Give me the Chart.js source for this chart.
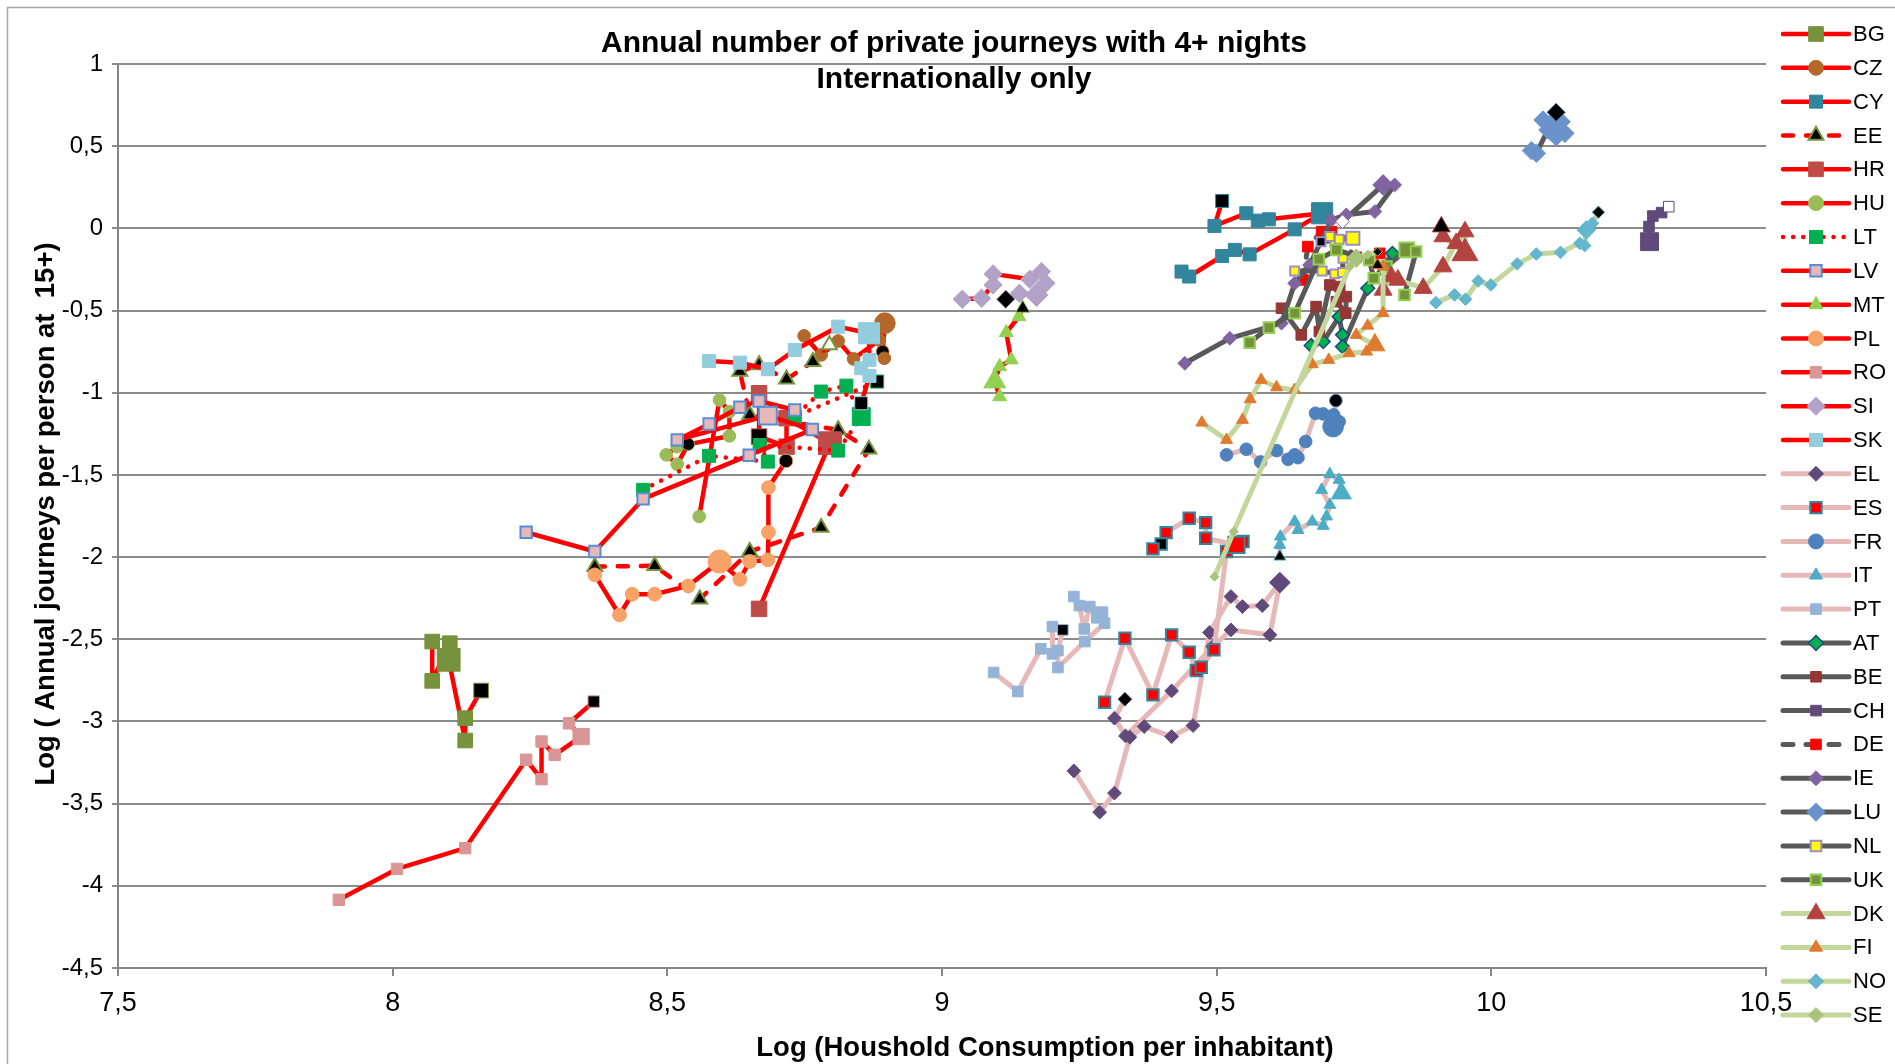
<!DOCTYPE html>
<html>
<head>
<meta charset="utf-8">
<title>Annual number of private journeys with 4+ nights</title>
<script src="https://cdn.jsdelivr.net/npm/chart.js@4.4.1/dist/chart.umd.min.js"></script>
<style>
html, body { margin: 0; padding: 0; background: #fff; }
#wrap { position: relative; width: 1895px; height: 1064px; }
</style>
</head>
<body>
<div id="wrap"><canvas id="chart" width="1895" height="1064"></canvas></div>
<script>
// Log household consumption per inhabitant (x) vs log annual journeys per person (y), one path per country.
const countries = ['BG', 'CZ', 'CY', 'EE', 'HR', 'HU', 'LT', 'LV', 'MT', 'PL', 'RO', 'SI', 'SK',
    'EL', 'ES', 'FR', 'IT', 'PT', 'AT', 'BE', 'CH', 'DE', 'IE', 'LU', 'NL', 'UK', 'DK', 'FI', 'NO', 'SE'];

const xBG = [8.072, 8.072, 8.104, 8.102, 8.132, 8.132, 8.161];
const yBG = [-2.514, -2.753, -2.524, -2.625, -3.116, -2.980, -2.812];
const xCZ = [8.749, 8.780, 8.811, 8.839, 8.886, 8.896, 8.892, 8.895];
const yCZ = [-0.654, -0.770, -0.685, -0.794, -0.679, -0.577, -0.750, -0.790];
const xCY = [9.436, 9.450, 9.510, 9.533, 9.560, 9.642, 9.692, 9.595, 9.575, 9.554, 9.496, 9.510];
const yCY = [-0.263, -0.293, -0.168, -0.131, -0.158, -0.006, 0.092, 0.055, 0.047, 0.092, 0.015, 0.167];
const xEE = [8.368, 8.477, 8.559, 8.650, 8.780, 8.867, 8.811, 8.650, 8.632, 8.667, 8.717, 8.765, 8.795];
const yEE = [-2.058, -2.053, -2.256, -1.966, -1.820, -1.344, -1.226, -1.135, -0.871, -0.831, -0.918, -0.811, -0.709];
const xHR = [8.667, 8.667, 8.717, 8.717, 8.796, 8.667];
const yHR = [-1.003, -1.267, -1.328, -1.155, -1.307, -2.315];
const xHU = [8.558, 8.595, 8.613, 8.613, 8.518, 8.498, 8.518, 8.538];
const yHU = [-1.753, -1.044, -1.115, -1.263, -1.328, -1.378, -1.435, -1.313];
const xLT = [8.456, 8.576, 8.683, 8.668, 8.811, 8.853, 8.826, 8.780, 8.732, 8.882];
const yLT = [-1.591, -1.384, -1.419, -1.318, -1.352, -1.145, -0.957, -0.993, -1.145, -0.932];
const xLV = [8.243, 8.368, 8.456, 8.649, 8.764, 8.683, 8.518, 8.576, 8.632, 8.667, 8.732];
const yLV = [-1.849, -1.966, -1.646, -1.380, -1.224, -1.139, -1.287, -1.190, -1.088, -1.050, -1.105];
const xMT = [9.105, 9.096, 9.105, 9.126, 9.117, 9.140, 9.147];
const yMT = [-1.024, -0.932, -0.841, -0.800, -0.634, -0.537, -0.486];
const xPL = [8.368, 8.413, 8.436, 8.477, 8.538, 8.595, 8.632, 8.650, 8.683, 8.684, 8.684, 8.716];
const yPL = [-2.108, -2.352, -2.226, -2.226, -2.175, -2.027, -2.135, -2.027, -2.017, -1.849, -1.577, -1.415];
const xRO = [7.902, 8.008, 8.132, 8.243, 8.271, 8.271, 8.295, 8.343, 8.321, 8.366];
const yRO = [-4.085, -3.897, -3.771, -3.233, -3.351, -3.122, -3.203, -3.092, -3.011, -2.879];
const xSI = [9.037, 9.072, 9.093, 9.093, 9.160, 9.181, 9.189, 9.172, 9.141, 9.116];
const ySI = [-0.431, -0.425, -0.344, -0.277, -0.310, -0.263, -0.334, -0.405, -0.395, -0.431];
const xSK = [8.576, 8.632, 8.683, 8.732, 8.811, 8.867, 8.868, 8.853, 8.868, 8.853];
const ySK = [-0.807, -0.817, -0.857, -0.740, -0.598, -0.638, -0.800, -0.851, -0.898, -1.064];
const xEL = [9.240, 9.287, 9.314, 9.342, 9.368, 9.418, 9.457, 9.487, 9.526, 9.547, 9.583, 9.615, 9.597, 9.526, 9.493, 9.418, 9.334, 9.314, 9.333];
const yEL = [-3.301, -3.552, -3.436, -3.096, -3.031, -3.092, -3.025, -2.459, -2.240, -2.301, -2.295, -2.155, -2.473, -2.443, -2.544, -2.814, -3.088, -2.980, -2.865];
const xES = [9.296, 9.333, 9.384, 9.418, 9.450, 9.463, 9.472, 9.495, 9.518, 9.548, 9.536, 9.480, 9.480, 9.450, 9.408, 9.399, 9.384];
const yES = [-2.883, -2.494, -2.838, -2.473, -2.579, -2.690, -2.670, -2.564, -1.966, -1.905, -1.926, -1.885, -1.790, -1.764, -1.851, -1.920, -1.950];
const xFR = [9.518, 9.554, 9.580, 9.609, 9.630, 9.642, 9.648, 9.662, 9.680, 9.694, 9.713, 9.723, 9.712, 9.717];
const yFR = [-1.378, -1.344, -1.421, -1.352, -1.405, -1.378, -1.395, -1.297, -1.125, -1.129, -1.135, -1.176, -1.206, -1.048];
const xIT = [9.615, 9.615, 9.616, 9.642, 9.648, 9.674, 9.694, 9.700, 9.706, 9.691, 9.706, 9.723, 9.727];
const yIT = [-1.997, -1.926, -1.875, -1.784, -1.835, -1.784, -1.810, -1.753, -1.682, -1.591, -1.496, -1.530, -1.611];
const xPT = [9.094, 9.138, 9.180, 9.201, 9.201, 9.220, 9.211, 9.211, 9.260, 9.296, 9.287, 9.269, 9.259, 9.250, 9.240];
const yPT = [-2.702, -2.818, -2.558, -2.589, -2.423, -2.443, -2.569, -2.672, -2.514, -2.402, -2.352, -2.301, -2.437, -2.295, -2.240];
const xAT = [9.672, 9.694, 9.723, 9.729, 9.729, 9.775, 9.820];
const yAT = [-0.713, -0.689, -0.537, -0.648, -0.719, -0.365, -0.152];
const xBE = [9.618, 9.654, 9.681, 9.687, 9.706, 9.736, 9.735, 9.718, 9.724];
const yBE = [-0.486, -0.648, -0.476, -0.628, -0.344, -0.415, -0.516, -0.446, -0.354];
const xCH = [10.288, 10.287, 10.294, 10.310, 10.323];
const yCH = [-0.081, 0.011, 0.075, 0.096, 0.132];
const xDE = [9.657, 9.666, 9.691, 9.709, 9.754, 9.797];
const yDE = [-0.314, -0.111, -0.020, -0.020, -0.176, -0.152];
const xIE = [9.442, 9.524, 9.618, 9.642, 9.669, 9.709, 9.736, 9.788, 9.824, 9.803, 9.729];
const yIE = [-0.821, -0.669, -0.577, -0.334, -0.223, 0.051, 0.082, 0.102, 0.264, 0.264, 0.041];
const xLU = [10.073, 10.082, 10.103, 10.094, 10.109, 10.127, 10.134, 10.118, 10.118];
const yLU = [0.473, 0.457, 0.599, 0.659, 0.629, 0.649, 0.578, 0.558, 0.706];
const xNL = [9.642, 9.692, 9.715, 9.729, 9.730, 9.715, 9.723, 9.706, 9.748, 9.690];
const yNL = [-0.259, -0.259, -0.277, -0.269, -0.182, -0.081, -0.066, -0.050, -0.060, -0.081];
const xUK = [9.560, 9.595, 9.642, 9.686, 9.718, 9.778, 9.786, 9.809, 9.846, 9.863, 9.842];
const yUK = [-0.695, -0.604, -0.516, -0.188, -0.131, -0.192, -0.304, -0.233, -0.131, -0.141, -0.405];
const xDK = [9.803, 9.818, 9.830, 9.876, 9.912, 9.936, 9.952, 9.952, 9.912, 9.909];
const yDK = [-0.375, -0.294, -0.314, -0.364, -0.233, -0.091, -0.020, -0.151, -0.050, 0.010];
const xFI = [9.473, 9.518, 9.547, 9.561, 9.581, 9.609, 9.642, 9.674, 9.704, 9.741, 9.773, 9.788, 9.754, 9.775, 9.803, 9.803, 9.793];
const yFI = [-1.182, -1.287, -1.165, -1.040, -0.922, -0.967, -0.983, -0.827, -0.800, -0.760, -0.750, -0.710, -0.648, -0.592, -0.516, -0.233, -0.223];
const xNO = [9.899, 9.933, 9.953, 9.976, 9.999, 10.047, 10.082, 10.126, 10.161, 10.170, 10.173, 10.184, 10.195];
const yNO = [-0.452, -0.405, -0.431, -0.320, -0.344, -0.216, -0.156, -0.146, -0.091, -0.105, -0.010, 0.031, 0.098];
const xSE = [9.496, 9.531, 9.742, 9.754, 9.775, 9.793];
const ySE = [-2.119, -1.845, -0.233, -0.182, -0.160, -0.142];

const xTicks = [7.5, 10.5, 0.5]; // min, max, step
const yTicks = [-4.5, 1, 0.5];

const xs = { BG: xBG, CZ: xCZ, CY: xCY, EE: xEE, HR: xHR, HU: xHU, LT: xLT, LV: xLV, MT: xMT, PL: xPL, RO: xRO, SI: xSI, SK: xSK,
    EL: xEL, ES: xES, FR: xFR, IT: xIT, PT: xPT, AT: xAT, BE: xBE, CH: xCH, DE: xDE, IE: xIE, LU: xLU, NL: xNL, UK: xUK,
    DK: xDK, FI: xFI, NO: xNO, SE: xSE };
const ys = { BG: yBG, CZ: yCZ, CY: yCY, EE: yEE, HR: yHR, HU: yHU, LT: yLT, LV: yLV, MT: yMT, PL: yPL, RO: yRO, SI: ySI, SK: ySK,
    EL: yEL, ES: yES, FR: yFR, IT: yIT, PT: yPT, AT: yAT, BE: yBE, CH: yCH, DE: yDE, IE: yIE, LU: yLU, NL: yNL, UK: yUK,
    DK: yDK, FI: yFI, NO: yNO, SE: ySE };

const RED = '#FF0000';
const PINK = '#E6B9B8';
const GREY = '#595959';
const GREEN = '#C3D69B';
const DASH = [10, 13];
const DOTS = [0.1, 10];
const SIZE = 1.15; // marker scale

// marker look per country: shape, fill, border, radius, big marker index/radius, highlighted (black) index
const styles = {
    BG: { line: RED, shape: 'rect', fill: '#76923C', r: 9, big: 3, bigR: 14, hi: 6 },
    CZ: { line: RED, shape: 'circle', fill: '#B3672B', r: 5.5, big: 5, bigR: 9, hi: 6 },
    CY: { line: RED, shape: 'rect', fill: '#31859C', r: 8, big: 6, bigR: 13, hi: 11 },
    EE: { line: RED, dash: DASH, shape: 'triangle', fill: '#000000', stroke: '#77933C', bw: 2, r: 7.5, hi: 12, hiColor: '#FFFFFF' },
    HR: { line: RED, shape: 'rect', fill: '#BE4B48', r: 9.5, big: 4, bigR: 14, hi: 1 },
    HU: { line: RED, shape: 'circle', fill: '#9BBB59', r: 5.5, hi: 7 },
    LT: { line: RED, dash: DOTS, shape: 'rect', fill: '#00B050', r: 8, big: 5, bigR: 11, hi: 9 },
    LV: { line: RED, shape: 'rect', fill: '#E6B9B8', stroke: '#558ED5', bw: 2, r: 7, big: 5, bigR: 11 },
    MT: { line: RED, shape: 'triangle', fill: '#92D050', r: 7, big: 1, bigR: 11, hi: 6 },
    PL: { line: RED, shape: 'circle', fill: '#F7A266', r: 6, big: 5, bigR: 10, hi: 11 },
    RO: { line: RED, shape: 'rect', fill: '#D99694', r: 7, big: 7, bigR: 10, hi: 9 },
    SI: { line: RED, shape: 'rectRot', fill: '#B3A2C7', r: 8, big: 7, bigR: 10, hi: 9 },
    SK: { line: RED, shape: 'rect', fill: '#93CDDD', r: 8, big: 5, bigR: 13, hi: 9 },
    EL: { line: PINK, shape: 'rectRot', fill: '#604A7B', r: 6, big: 11, bigR: 9, hi: 18 },
    ES: { line: PINK, shape: 'rect', fill: '#FF0000', stroke: '#31859C', bw: 2, r: 7, big: 10, bigR: 10, hi: 15 },
    FR: { line: PINK, shape: 'circle', fill: '#4F81BD', r: 5.5, big: 12, bigR: 9, hi: 13 },
    IT: { line: PINK, shape: 'triangle', fill: '#4BACC6', r: 6, big: 12, bigR: 10, hi: 0 },
    PT: { line: PINK, shape: 'rect', fill: '#95B3D7', r: 6.5, big: 10, bigR: 10, hi: 5 },
    AT: { line: GREY, shape: 'rectRot', fill: '#00B050', stroke: '#1F497D', bw: 1.5, r: 6 },
    BE: { line: GREY, shape: 'rect', fill: '#953735', r: 6.5 },
    CH: { line: GREY, shape: 'rect', fill: '#604A7B', r: 6.5, big: 0, bigR: 11, hi: 4, hiColor: '#FFFFFF' },
    DE: { line: GREY, dash: DASH, shape: 'rect', fill: '#FF0000', r: 6.5 },
    IE: { line: GREY, shape: 'rectRot', fill: '#8064A2', r: 6, big: 9, bigR: 9, hi: 10, hiColor: '#FFFFFF' },
    LU: { line: GREY, shape: 'rectRot', fill: '#6A93CC', r: 8, big: 4, bigR: 10, hi: 8 },
    NL: { line: GREY, shape: 'rect', fill: '#FFFF00', stroke: '#A08BC4', bw: 2, r: 5.5, big: 8, bigR: 8, hi: 9 },
    UK: { line: GREY, shape: 'rect', fill: '#76923C', stroke: '#92D050', bw: 2, r: 6.5, big: 8, bigR: 9 },
    DK: { line: GREEN, shape: 'triangle', fill: '#B3433F', r: 9, big: 7, bigR: 13, hi: 9 },
    FI: { line: GREEN, shape: 'triangle', fill: '#E07A2E', r: 6, big: 11, bigR: 10, hi: 16 },
    NO: { line: GREEN, shape: 'rectRot', fill: '#63B6CE', r: 5.5, big: 10, bigR: 8, hi: 12 },
    SE: { line: GREEN, shape: 'rectRot', fill: '#A8C47A', r: 4, big: 3, bigR: 8, hi: 5 },
};

const titleLines = ['Annual number of private journeys with 4+ nights', 'Internationally only'];
const xTitle = 'Log (Houshold Consumption per inhabitant)';
const yTitle = 'Log ( Annual journeys per person at  15+)';

const FONT = '"Liberation Sans", Arial, sans-serif';
const comma = (v) => String(Math.round(v * 10) / 10).replace('.', ',');

const datasets = countries.map((c, i) => {
    const s = styles[c];
    const px = xs[c];
    const py = ys[c];
    const radii = px.map((x, k) => (k === s.big ? s.bigR : s.r) * SIZE);
    return {
        label: c,
        data: px.map((x, k) => ({ x: x, y: py[k] })),
        showLine: true,
        order: countries.length - i, // later series on top, like the original
        borderColor: s.line,
        borderWidth: s.line === RED ? 4.5 : 5,
        borderDash: s.dash || [],
        borderCapStyle: 'round',
        borderJoinStyle: 'round',
        tension: 0,
        pointStyle: s.shape,
        pointRadius: radii,
        pointHoverRadius: radii,
        pointBackgroundColor: px.map((x, k) => (k === s.hi ? (s.hiColor || '#000000') : s.fill)),
        pointBorderColor: s.stroke || s.fill,
        pointBorderWidth: s.bw || 1,
    };
});

function marker(ctx, shape, x, y, r) {
    ctx.beginPath();
    if (shape === 'circle') {
        ctx.arc(x, y, r, 0, Math.PI * 2);
    } else if (shape === 'rect') {
        const h = r * Math.SQRT1_2;
        ctx.rect(x - h, y - h, 2 * h, 2 * h);
    } else if (shape === 'rectRot') {
        ctx.moveTo(x - r, y); ctx.lineTo(x, y - r); ctx.lineTo(x + r, y); ctx.lineTo(x, y + r);
        ctx.closePath();
    } else {
        const a = Math.PI * 2 / 3;
        ctx.moveTo(x, y - r);
        ctx.lineTo(x + Math.sin(a) * r, y - Math.cos(a) * r);
        ctx.lineTo(x - Math.sin(a) * r, y - Math.cos(a) * r);
        ctx.closePath();
    }
    ctx.fill();
    ctx.stroke();
}

// frame, titles and the line+marker legend on the right
const overlay = {
    id: 'overlay',
    afterDraw(chart) {
        const ctx = chart.ctx;
        ctx.save();
        ctx.strokeStyle = '#A6A6A6';
        ctx.lineWidth = 1.5;
        ctx.strokeRect(7.5, 7.5, 1950, 1150);

        ctx.fillStyle = '#000';
        ctx.textAlign = 'center';
        ctx.textBaseline = 'middle';
        ctx.font = `bold 30px ${FONT}`;
        ctx.fillText(titleLines[0], 954, 44);
        ctx.fillText(titleLines[1], 954, 80);

        ctx.font = `bold 27.5px ${FONT}`;
        ctx.fillText(xTitle, 1045, 1048);
        ctx.save();
        ctx.translate(46, 514);
        ctx.rotate(-Math.PI / 2);
        ctx.fillText(yTitle, 0, 0);
        ctx.restore();

        countries.forEach((c, i) => {
            const s = styles[c];
            const y = 34 + i * 33.83;
            ctx.save();
            ctx.strokeStyle = s.line;
            ctx.lineWidth = s.line === RED ? 4.5 : 5;
            ctx.lineCap = 'round';
            ctx.setLineDash(s.dash || []);
            ctx.beginPath();
            ctx.moveTo(1783, y);
            ctx.lineTo(1849, y);
            ctx.stroke();
            ctx.restore();
            ctx.fillStyle = s.fill;
            ctx.strokeStyle = s.stroke || s.fill;
            ctx.lineWidth = s.bw || 1;
            marker(ctx, s.shape, 1816, y, Math.min(Math.max(s.r, 6.5), 9) * SIZE);
            ctx.fillStyle = '#000';
            ctx.textAlign = 'left';
            ctx.font = `22px ${FONT}`;
            ctx.fillText(c, 1853, y + 1);
        });
        ctx.restore();
    },
};

new Chart(document.getElementById('chart'), {
    type: 'scatter',
    data: { datasets: datasets },
    plugins: [overlay],
    options: {
        responsive: false,
        animation: false,
        devicePixelRatio: 1,
        layout: { padding: { top: 64, right: 129, left: 0, bottom: 0 } },
        plugins: { legend: { display: false }, title: { display: false }, tooltip: { enabled: false } },
        scales: {
            x: {
                type: 'linear',
                min: xTicks[0],
                max: xTicks[1],
                afterFit: (scale) => { scale.height = 96; },
                ticks: { stepSize: xTicks[2], callback: comma, color: '#000', padding: 11, font: { family: FONT, size: 27 } },
                grid: { drawOnChartArea: false, drawTicks: true, tickLength: 8, color: '#868686', lineWidth: 2 },
                border: { display: true, color: '#868686', width: 2 },
            },
            y: {
                type: 'linear',
                min: yTicks[0],
                max: yTicks[1],
                afterFit: (scale) => { scale.width = 118; },
                ticks: { stepSize: yTicks[2], callback: comma, color: '#000', padding: 9, font: { family: FONT, size: 24 } },
                grid: { drawOnChartArea: true, drawTicks: true, tickLength: 6, color: '#8C8C8C', lineWidth: 2 },
                border: { display: true, color: '#868686', width: 2 },
            },
        },
    },
});
</script>
</body>
</html>
